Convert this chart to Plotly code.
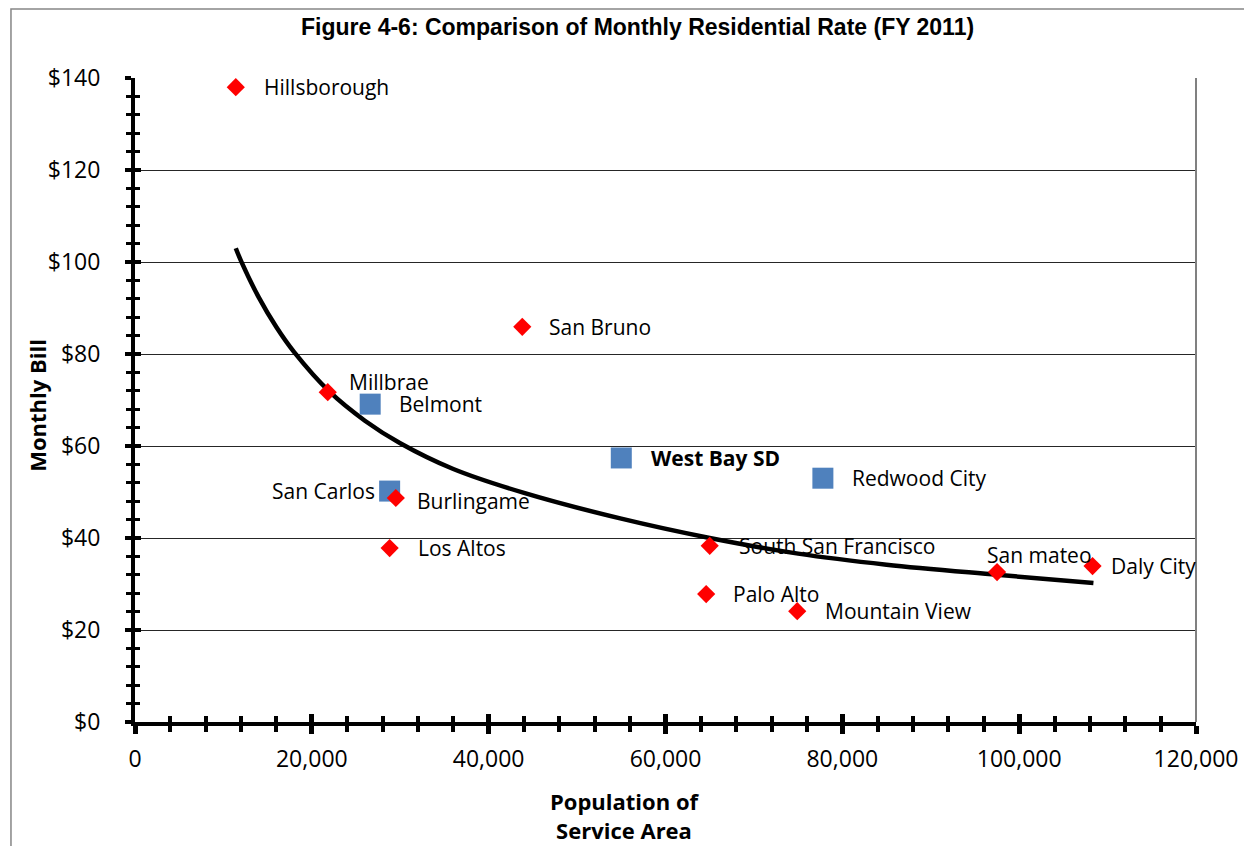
import plotly.graph_objects as go

# ---- data ----
diamond_names = ["Hillsborough", "San Bruno", "Millbrae", "Burlingame", "Los Altos",
                 "South San Francisco", "Palo Alto", "Mountain View", "San mateo", "Daly City"]
diamond_pop = [11400, 43800, 21800, 29500, 28800, 65000, 64600, 74900, 97500, 108300]
diamond_bill = [138.0, 85.9, 71.7, 48.7, 37.8, 38.3, 27.8, 24.1, 32.6, 33.9]

square_names = ["Belmont", "West Bay SD", "Redwood City", "San Carlos"]
square_pop = [26600, 55000, 77800, 28800]
square_bill = [69.1, 57.4, 53.0, 50.2]

# trend curve
trend_pop = [11400, 12000, 14000, 16000, 18000, 22000, 26000, 30000, 36000, 44000,
             55000, 65000, 75000, 85000, 97500, 108400]
trend_bill = [103.0, 100.2, 92.3, 85.8, 80.4, 71.8, 65.5, 60.6, 55.0, 49.8,
              44.2, 40.0, 36.6, 34.2, 32.0, 30.2]

title_text = "Figure 4-6: Comparison of Monthly Residential Rate (FY 2011)"
x_title = "Population of<br>Service Area"
y_title = "Monthly Bill"

# label placement styles (pixel offsets), keyed by name
label_style = {
    "Hillsborough": (26, 0, "left"),
    "San Bruno": (25, 0, "left"),
    "Millbrae": (19, 10, "left"),
    "Burlingame": (19, -3, "left"),
    "Los Altos": (26, 0, "left"),
    "South San Francisco": (27, 0, "left"),
    "Palo Alto": (25, 0, "left"),
    "Mountain View": (26, 0, "left"),
    "San mateo": (-12, 17, "left"),
    "Daly City": (16, 0, "left"),
    "Belmont": (27, 0, "left"),
    "West Bay SD": (28, 0, "left"),
    "Redwood City": (27, 0, "left"),
    "San Carlos": (-13, 0, "right"),
}

FONT = "Open Sans"

fig = go.Figure()

fig.add_trace(go.Scatter(
    x=trend_pop, y=trend_bill, mode="lines",
    line=dict(color="black", width=4.5, shape="spline"),
    hoverinfo="skip", showlegend=False))

fig.add_trace(go.Scatter(
    x=square_pop, y=square_bill, mode="markers",
    marker=dict(symbol="square", size=21, color="#4F81BD", line=dict(width=0)),
    text=square_names, showlegend=False))

fig.add_trace(go.Scatter(
    x=diamond_pop, y=diamond_bill, mode="markers",
    marker=dict(symbol="diamond", size=14, color="#FF0000", line=dict(width=0)),
    text=diamond_names, showlegend=False))

# invisible trace for the overlay axes (inside half of crossing ticks)
fig.add_trace(go.Scatter(x=[0], y=[0], xaxis="x2", yaxis="y2", mode="markers",
                         marker=dict(opacity=0), hoverinfo="skip", showlegend=False))

annotations = []
for names, xs, ys in [(diamond_names, diamond_pop, diamond_bill),
                      (square_names, square_pop, square_bill)]:
    for n, xv, yv in zip(names, xs, ys):
        dx, dy, anc = label_style[n]
        txt = "<b>%s</b>" % n if n == "West Bay SD" else n
        annotations.append(dict(
            x=xv, y=yv, xref="x", yref="y", text=txt, showarrow=False,
            xanchor=anc, yanchor="middle", xshift=dx, yshift=dy,
            font=dict(family=FONT, size=21, color="black")))

annotations.append(dict(
    x=0.474, y=1.103, xref="paper", yref="paper", text="<b>%s</b>" % title_text,
    showarrow=False, xanchor="center", yanchor="top",
    font=dict(family="Liberation Sans", size=23, color="black")))
annotations.append(dict(
    x=-0.0924, y=0.4925, xref="paper", yref="paper", text="<b>%s</b>" % y_title,
    showarrow=False, textangle=-90, xanchor="center", yanchor="middle",
    font=dict(family=FONT, size=22, color="black")))
annotations.append(dict(
    x=0.4618, y=-0.1445, xref="paper", yref="paper", text="<b>%s</b>" % x_title,
    showarrow=False, xanchor="center", yanchor="middle",
    font=dict(family=FONT, size=22, color="black")))

shapes = [
    # chart-area border
    dict(type="rect", xref="paper", yref="paper", x0=-0.1169, x1=1.3, y0=-0.4, y1=1.1071,
         line=dict(color="#868686", width=1.5), layer="below"),
    # right plot-area border
    dict(type="line", xref="paper", yref="paper", x0=1, x1=1, y0=0, y1=1,
         line=dict(color="#808080", width=2)),
]

fig.update_layout(
    width=1244, height=838,
    margin=dict(l=127, r=56, t=70, b=124),
    paper_bgcolor="white", plot_bgcolor="white",
    font=dict(family=FONT, size=21, color="black"),
    showlegend=False,
    annotations=annotations,
    shapes=shapes,
    xaxis=dict(
        range=[0, 120000], dtick=20000, tick0=0, tickformat=",",
        showgrid=False, zeroline=False,
        showline=True, linecolor="black", linewidth=4,
        ticks="outside", ticklen=8, tickwidth=5, tickcolor="black",
        minor=dict(dtick=4000, ticks="outside", ticklen=6, tickwidth=4, tickcolor="black"),
        ticklabelstandoff=5,
        tickfont=dict(family=FONT, size=23, color="black"),
    ),
    yaxis=dict(
        range=[0, 140], dtick=20, tick0=0, tickprefix="$",
        showgrid=True, gridcolor="#262626", gridwidth=1,
        zeroline=False,
        showline=True, linecolor="black", linewidth=4,
        ticks="outside", ticklen=6, tickwidth=4, tickcolor="black",
        minor=dict(dtick=4, ticks="outside", ticklen=5, tickwidth=3, tickcolor="black"),
        ticklabelstandoff=20,
        tickfont=dict(family=FONT, size=23, color="black"),
    ),
    xaxis2=dict(
        range=[0, 120000], dtick=20000, tick0=0, overlaying="x", anchor="y", side="bottom",
        showgrid=False, zeroline=False, showline=False, showticklabels=False,
        ticks="inside", ticklen=8, tickwidth=5, tickcolor="black",
        minor=dict(dtick=4000, ticks="inside", ticklen=6, tickwidth=4, tickcolor="black"),
    ),
    yaxis2=dict(
        range=[0, 140], dtick=20, tick0=0, overlaying="y", anchor="x", side="left",
        showgrid=False, zeroline=False, showline=False, showticklabels=False,
        ticks="inside", ticklen=6, tickwidth=4, tickcolor="black",
        minor=dict(dtick=4, ticks="inside", ticklen=5, tickwidth=3, tickcolor="black"),
    ),
)

fig.write_html("out.html")
